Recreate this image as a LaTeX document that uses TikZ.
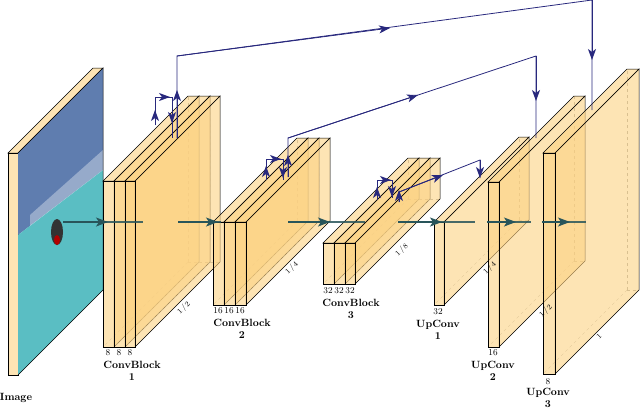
\documentclass[tikz,border=0pt]{standalone}
\usetikzlibrary{arrows.meta}
\definecolor{slabc}{RGB}{252,210,130}
\definecolor{skipc}{RGB}{40,40,125}
\definecolor{mainc}{RGB}{40,85,90}
\definecolor{skyc}{RGB}{95,125,175}
\definecolor{icec}{RGB}{90,190,195}
\tikzset{
 slabface/.style={fill=slabc,fill opacity=0.6,draw=black,draw opacity=1,line width=0.5pt},
 hidden/.style={dashed,draw=gray!70,line width=0.3pt},
 skipl/.style={draw=skipc,line width=0.8pt},
 skiptip/.style={draw=skipc,fill=skipc,line width=0.8pt,-{Stealth[length=11pt,width=8pt,inset=3pt]}},
 mainl/.style={draw=mainc,line width=1.2pt,draw opacity=0.85},
 maintip/.style={draw=mainc,line width=1.2pt,-{Stealth[length=12pt,width=9pt,inset=3pt]}},
 lbl/.style={font=\fontsize{9}{9}\selectfont,inner sep=0pt},
 nm/.style={font=\fontsize{10.5}{12}\selectfont\bfseries,inner sep=0pt,align=center},
 dep/.style={font=\fontsize{7.5}{8}\selectfont,inner sep=0pt,rotate=45}
}
\newcommand\slab[5]{%
 \draw[hidden] ({#1+#5},{#4-#5}) -- ++(0,{#2-#4});
 \draw[hidden] ({#1+#5},{#4-#5}) -- ++({#3-#1},0);
 \draw[hidden] ({#1+#5},{#4-#5}) -- (#1,#4);
 \draw[slabface] (#3,#2) -- ++(#5,-#5) -- ++(0,{#4-#2}) -- (#3,#4) -- cycle;
 \draw[slabface] (#1,#2) -- ++(#5,-#5) -- ++({#3-#1},0) -- (#3,#2) -- cycle;
 \draw[slabface] (#1,#2) rectangle (#3,#4);
}
\begin{document}
\begin{tikzpicture}[x=1pt,y=-1pt]
\useasboundingbox (0,0) rectangle (640,408);
% image
\draw[slabface] (8,153) -- ++(85,-85) -- ++(10,0) -- (18,153) -- cycle;
\draw[slabface] (8,153) rectangle (18,375);
\fill[skyc] (18,153) -- (103,68) -- (103,170) -- (18,235) -- cycle;
\fill[icec] (18,235) -- (103,170) -- (103,290) -- (18,375) -- cycle;
\fill[white,opacity=0.35] (30,215) -- (103,150) -- (103,170) -- (30,226) -- cycle;
\fill[black!80] (57,232) ellipse (6pt and 13pt);
\fill[red!70!black] (57,240) ellipse (3pt and 5pt);
\draw[line width=0.5pt] (18,153) -- (103,68) -- (103,290) -- (18,375);
% convblock 1
\slab{103}{181}{114}{347}{85}
\slab{114}{181}{125}{347}{85}
\slab{125}{181}{135}{347}{85}
% convblock 2
\slab{213}{222}{224}{305}{84}
\slab{224}{222}{235}{305}{84}
\slab{235}{222}{246}{305}{84}
% convblock 3
\slab{323}{243}{334}{284}{85}
\slab{334}{243}{345}{284}{85}
\slab{345}{243}{355}{284}{85}
% upconv
\slab{434}{222}{444}{305}{85}
\slab{488}{182}{499}{347}{86}
\slab{543}{153}{555}{374}{84}
% main arrows
\draw[mainl] (63,222) -- (143,222); \draw[maintip] (63,222) -- (108,222);
\draw[mainl] (178,222) -- (221,222); \draw[maintip] (178,222) -- (218,222);
\draw[mainl] (288,222) -- (365,222); \draw[maintip] (288,222) -- (330,222);
\draw[mainl] (398,222) -- (475,222); \draw[maintip] (398,222) -- (442,222);
\draw[mainl] (487,222) -- (531,222); \draw[maintip] (487,222) -- (516,222);
\draw[mainl] (542,222) -- (586,222); \draw[maintip] (542,222) -- (570,222);
% skips block1
\draw[skipl] (155,125) -- (155,97) -- (172,97) -- (172,138);
\draw[skiptip] (155,125) -- (155,110);
\draw[skiptip] (155,97) -- (170,97);
\draw[skiptip] (172,97) -- (172,123);
\draw[skipl] (177,138) -- (177,56) -- (592,0) -- (592,110);
\draw[skiptip] (177,138) -- (177,90);
\draw[skiptip] (177,56) -- (390,28);
\draw[skiptip] (592,0) -- (592,60);
% skips block2
\draw[skipl] (266,180) -- (266,159) -- (283,159) -- (283,180);
\draw[skiptip] (266,180) -- (266,166);
\draw[skiptip] (266,159) -- (281,159);
\draw[skiptip] (283,159) -- (283,178);
\draw[skipl] (288,177) -- (288,138) -- (536,56) -- (536,138);
\draw[skiptip] (288,177) -- (288,155);
\draw[skiptip] (288,138) -- (418,95);
\draw[skiptip] (536,56) -- (536,101);
% skips block3
\draw[skipl] (377,200) -- (377,180) -- (392,180) -- (392,198);
\draw[skiptip] (377,200) -- (377,187);
\draw[skiptip] (377,180) -- (391,180);
\draw[skiptip] (392,180) -- (392,197);
\draw[skipl] (399,202) -- (399,192) -- (480,160) -- (480,178);
\draw[skiptip] (399,202) -- (399,190);
\draw[skiptip] (399,192) -- (443,175);
\draw[skiptip] (480,160) -- (480,178);
% labels
\node[nm] at (16,398) {Image};
\node[lbl] at (108,353) {8}; \node[lbl] at (119,353) {8}; \node[lbl] at (130,353) {8};
\node[nm] at (132,371) {ConvBlock\\1};
\node[lbl] at (218,311) {16}; \node[lbl] at (229,311) {16}; \node[lbl] at (240,311) {16};
\node[nm] at (242,329) {ConvBlock\\2};
\node[lbl] at (328,291) {32}; \node[lbl] at (339,291) {32}; \node[lbl] at (350,291) {32};
\node[nm] at (351,309) {ConvBlock\\3};
\node[lbl] at (438,312) {32}; \node[nm] at (438,330) {UpConv\\1};
\node[lbl] at (493,353) {16}; \node[nm] at (493,371) {UpConv\\2};
\node[lbl] at (548,382) {8}; \node[nm] at (548,398) {UpConv\\3};
\node[dep] at (184,308) {1\,/\,2};
\node[dep] at (292,268) {1\,/\,4};
\node[dep] at (402,250) {1\,/\,8};
\node[dep] at (490,268) {1\,/\,4};
\node[dep] at (546,311) {1\,/\,2};
\node[dep] at (599,336) {1};
\end{tikzpicture}
\end{document}
